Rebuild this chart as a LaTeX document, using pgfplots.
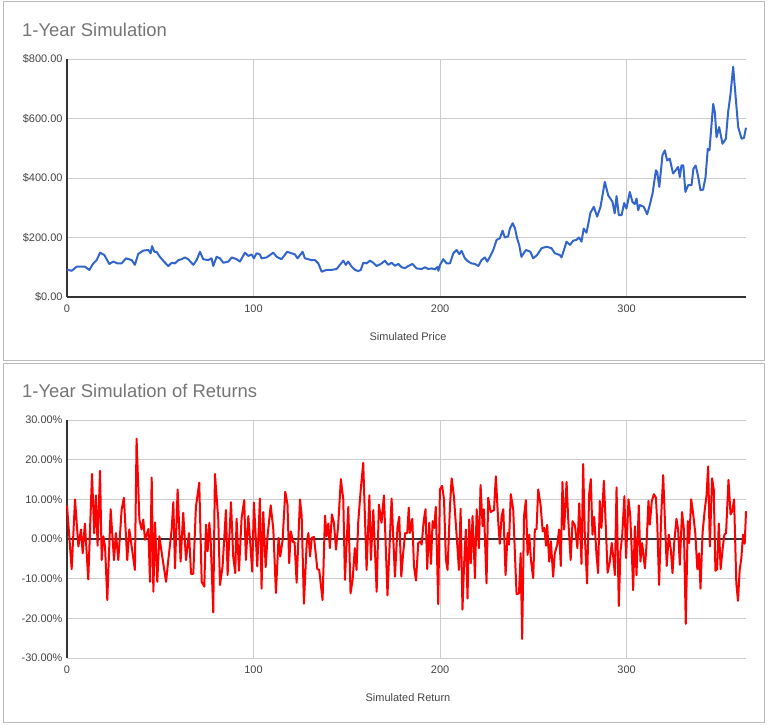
\documentclass[border=0pt]{standalone}
\usepackage{fontspec}
\setmainfont{Liberation Sans}
\usepackage{pgfplots}
\usepackage{pgfplotstable}
\pgfplotsset{compat=1.18}

\definecolor{gblue}{HTML}{3366CC}
\definecolor{gred}{HTML}{FF0000}
\definecolor{gridgray}{HTML}{CCCCCC}
\definecolor{basegray}{HTML}{333333}
\definecolor{ticktext}{HTML}{444444}
\definecolor{titletext}{HTML}{757575}
\definecolor{boxgray}{HTML}{BBBBBB}

% simulated price, day vs. dollars
\pgfplotstableread{
day price
0 92
2.5 88
5.2 102
9.6 102
12 91
14.1 113
15.9 124
17.7 149
20 141
22.7 111
24.8 119
27 113
29.3 113
31.6 130
34.7 124
36.4 108
38.2 145
40.9 156
43.6 158
44.8 147
45.6 171
46.8 152
48 152
49.8 135
52 119
54.3 104
56.1 115
57.9 113
59.7 124
61.5 127
63.2 133
65 127
67.7 108
69.5 124
71.3 152
73 127
75.7 124
77.5 130
78.4 104
80.2 135
82 130
83.8 115
86.5 119
88.3 133
90.9 127
92.7 119
95.4 149
97.2 138
99 143
100.2 130
101.6 147
103.4 143
104.3 130
107 133
108.8 141
110.6 149
112.4 135
115 127
118 152
120.4 147
122.2 143
123.6 130
126.3 152
127.5 130
131.1 124
132.9 124
134.7 113
136.5 85
139.2 91
141.8 91
144.5 94
146.3 108
148.1 122
149.5 108
150.7 119
152.6 102
154.4 91
156.1 87
157.5 91
158.8 115
160.6 113
162.4 122
164.2 115
166 104
168.7 113
170.4 122
172.2 108
174 115
175.8 105
177.6 111
179.4 100
181.2 97
182.9 104
185.2 111
187.4 96
190.1 94
191.9 100
193.7 94
195.5 96
197.3 93
198.6 101
199.1 88
200 108
201.7 127
203.5 113
205.3 113
207.1 147
208.9 158
210.3 144
211.5 155
213.3 130
215.1 119
216.9 113
218.7 111
220.5 104
222.2 124
224 133
225.3 119
226.7 135
228.5 158
230.3 192
232 197
233.5 223
234.7 200
236.5 204
237.4 230
238.9 248
240.1 232
241.3 197
242.4 175
243.6 135
246 158
248.4 152
249.9 130
252 141
254.4 164
257.1 169
259.7 164
261.5 147
264.2 141
265.1 133
266.4 158
267.8 186
269.6 175
271.3 189
273.1 192
274.5 200
275.8 186
277 230
278.5 216
280.6 283
282.4 303
284.2 270
286 303
288.3 387
290.1 342
292.4 320
293.6 281
294.6 339
295.8 275
297.3 275
298.7 316
299.9 297
301.7 353
303.1 320
304.4 312
305.3 331
306.2 292
307.1 309
309.2 303
311 278
312.4 309
313.9 348
315.7 426
316.4 420
317.5 370
319.2 476
320.5 493
321.7 459
323.1 465
324.9 415
326.3 426
327.6 437
328.5 403
329.4 442
330.4 442
331.5 353
333 376
334.8 376
335.8 431
337 442
338.2 409
339.6 359
341 361
342.3 403
343.5 498
344.4 493
346.4 649
347.3 621
348.2 537
349.6 571
351.4 515
353.2 532
354.4 621
355.7 683
357.1 774
358.6 660
359.8 571
361.6 532
362.9 535
364 569
}\pricetable

% simulated daily return, in percent
\pgfplotstableread{
day ret
0 8.5
2.5 -7.6
4.3 10
6.1 -1.9
7.5 2.4
8.4 -3.6
9.6 3.9
11.4 -10.2
13.4 16.4
14.6 1.4
15.5 11
16.4 -1.7
17.7 17.2
18.6 -5.3
19.5 0.7
20.4 -1.9
21.6 -15.4
23.4 7.5
25.2 -5.3
26.2 1.5
27.5 -5.3
29.3 7.5
30.5 10.4
32.3 -5.3
33.4 2.4
36.4 -7.8
37.3 25.3
38.8 4.9
40 2.4
40.9 4.9
41.8 -0.2
43.6 2.5
44.5 -10.8
45.4 15.5
46.3 -13.3
47.2 4.2
48.4 -10.8
49.5 0.7
51.6 -6.1
53.1 -10.8
54.3 -5.3
56.1 2.4
57 9.3
57.9 -7.4
59.3 12.5
60.9 -5.7
62.3 6.6
63.8 -5.3
65.4 1.5
66.5 -8.8
67.7 -8.8
69.1 8.1
70.9 14.2
72.2 -10.8
73.6 -12
74.5 3.6
75.4 -3.1
76.3 4.1
77 -0.2
78.4 -18.5
79.3 16.4
81.1 4.9
82 -11.6
83.4 -6.9
85.2 7.3
86.1 -9.1
87.9 9.3
89.1 -4.4
90.2 -8.6
90.9 5.1
92.2 -8
93.6 5.3
95 9.8
95.9 -5.3
97.2 5.8
99.3 -8.2
100.2 9.2
102 -6.9
103.4 10.2
104.3 -12.5
105.2 6.8
106.5 -7.1
107.5 0.7
109.2 8.5
110.6 2.4
112 -13.6
113.4 0.3
114.3 -4.4
115.6 -0.2
117 11.9
118.2 8.7
119.1 -6.1
120 1.9
121.2 -0.8
122 -0.8
123.1 -11
124.9 10
125.8 5.8
127 -16.3
128.5 -1
129.4 1.5
130.3 -4.4
131.2 0.3
132.4 0.5
134.2 -7.6
135.2 -7.8
137 -15.4
138.3 5.9
139.2 0.7
140.1 3.9
140.9 -2.3
142 6.2
143.1 4.1
144.2 -2.7
145.4 3.6
146.8 15.1
148.1 10
149 -10.3
150.8 8.1
152 -13.7
153.1 -10.3
154.3 -2.3
155.2 -7.8
156.1 4.1
157.4 12.1
158.8 19.2
160.6 -7.8
162.1 11
162.9 -5.3
164.2 7.3
166 -13.3
167.2 8.7
168.6 4.1
169.9 11
171.8 -14.2
174 10.2
175.8 -9.5
177.2 3.2
178.1 5.6
179.2 -9.5
180.2 -3.6
181.3 1.5
182.4 1.5
183.2 7.9
183.8 1.5
185.1 5.1
186 -6.9
187.1 -10.5
188.3 -1
189.6 -0.6
190.1 -1.4
191.3 4.9
192.2 7.5
193.1 -7.6
194.2 4.1
195.1 -6.3
196 4.5
196.9 2.8
197.7 8.1
199 -16.4
199.9 12.5
201.1 13.4
202.1 10
203.1 -5.1
204 -7.8
205.3 8.3
206.2 15.3
207.4 10.8
208.9 0.7
210.1 -7.8
211 7.6
212 -17.8
212.9 -6.1
213.8 2.4
214.7 -15
215.6 4.9
216.5 -6.1
217.4 5.8
218.7 -9.9
219.6 7.5
220.8 -2.3
221.7 13.6
222.8 3.2
223.5 7.5
224.9 -11.2
225.8 10.4
227.1 6.8
228.9 7.3
229.9 15.8
231.2 4.1
232 -1.2
233 5.8
233.9 7.5
235.1 -9.1
236.2 1.5
236.9 -1.4
237.9 11.3
239.2 7.5
240.1 -3.6
241 -13.9
242.3 -13.7
243.2 -3.6
244 -25.2
245 5.8
246 9.8
246.9 -4
247.8 1.1
248.7 -5.3
249.9 -9.9
250.8 2.4
251.7 2.5
252.6 12.5
253.9 8.5
255 1.9
255.9 2.8
256.8 -1.7
257.4 3.6
258.5 -5.7
259.4 -0.6
260.6 -9.5
261.5 -3.6
262.8 -1.4
263.8 2.4
264.7 -6.8
265.6 14.4
266.5 2.4
267.8 14.4
268.7 4.9
270 -5.3
271 4.5
272.3 3.4
273.6 -2.3
274.6 9
275.8 -6.3
276.7 18.9
277.6 0.7
278.8 -11.2
279.9 11.3
280.8 15.1
281.7 1.1
282.6 5.6
283.8 -3.6
284.7 -8.6
285.6 9.6
286.5 2.8
287.8 14.7
288.9 2.4
289.8 -8.5
291 -5.7
292 -1
292.9 -4.8
293.7 -9.1
294.6 13
295.8 -16.9
296.7 -3.1
297.6 0.7
298.8 10.8
299.7 -4.8
301 10
301.9 6.2
302.8 -3.6
303.5 -12.9
304.4 3.2
305.3 -9.1
306.5 8.5
307.4 -5.7
308.3 -1
308.9 -3.6
309.8 -7.4
310.6 -1.9
311.7 9.6
312.4 3.6
313.5 9.6
314.6 11.3
315.7 10.4
316.4 4.1
317.4 -11.6
318.6 6.6
319.6 16.1
320.5 4.9
321.5 -6.8
322.6 1.1
323.7 -2.7
324.6 -8.6
325.5 -1
326.7 5.1
327.6 2.4
328.5 -6.5
329.7 6.8
330.7 2.4
331.7 -21.4
332.8 4.5
333.5 -1
334.6 10
335.7 6.2
336.8 1.5
337.9 -7.6
338.8 -3.6
339.6 -12.5
340.7 1.5
341.9 7.5
342.8 10.8
343.7 18.3
344.6 -1.9
345.8 15.3
346.7 12.5
347.6 -8
348.5 -7.6
349.4 3.9
350.4 -7.6
351.5 -2.3
352.4 1.1
353.3 1.5
354.6 14.9
355.7 6.2
356.6 7
357.6 10
358.8 -11.2
359.7 -15.6
360.6 -7.8
361.5 -4.8
362.4 1.1
363.3 -1.2
364 7
}\returntable

\pgfplotsset{
  simchart/.style={
    scale only axis,
    width=679bp, height=238bp,
    xmin=0, xmax=364,
    xtick={0,100,200,300},
    xticklabels={0,100,200,300},
    grid=major,
    major grid style={gridgray, line width=0.8bp},
    major tick length=0pt,
    axis x line*=bottom,
    axis y line*=left,
    y axis line style={-, basegray, line width=1.2bp},
    tick label style={font=\fontsize{11}{13}\selectfont, text=ticktext},
    xticklabel style={yshift=-4bp},
    yticklabel style={xshift=-1bp},
    clip=false,
  },
}

\begin{document}
\begin{tikzpicture}[x=1bp, y=1bp]
  \path[use as bounding box] (0,0) rectangle (768,726);
  \draw[boxgray, line width=1bp] (3,365) rectangle (764,724);
  \draw[boxgray, line width=1bp] (3,3) rectangle (764,362);

  \node[anchor=base west, inner sep=0pt, text=titletext, font=\fontsize{18.5}{22}\selectfont] at (22,689) {1-Year Simulation};
  \node[anchor=base west, inner sep=0pt, text=titletext, font=\fontsize{18.5}{22}\selectfont] at (22,328) {1-Year Simulation of Returns};
  \node[text=ticktext, font=\fontsize{11}{13}\selectfont] at (408,389) {Simulated Price};
  \node[text=ticktext, font=\fontsize{11}{13}\selectfont] at (408,28) {Simulated Return};

  \begin{axis}[simchart,
      at={(67bp,429bp)}, anchor=south west,
      ymin=0, ymax=800,
      ytick={0,200,400,600,800},
      yticklabels={\$0.00,\$200.00,\$400.00,\$600.00,\$800.00},
      x axis line style={-, basegray, line width=1.2bp},
    ]
    \addplot[gblue, line width=2bp, line join=round] table[x=day, y=price] {\pricetable};
  \end{axis}

  \begin{axis}[simchart,
      at={(67bp,68bp)}, anchor=south west,
      ymin=-30, ymax=30,
      ytick={-30,-20,-10,0,10,20,30},
      yticklabels={-30.00\%,-20.00\%,-10.00\%,0.00\%,10.00\%,20.00\%,30.00\%},
      x axis line style={-, gridgray, line width=0.8bp},
    ]
    \draw[basegray, line width=1.2bp] (axis cs:0,0) -- (axis cs:364,0);
    \addplot[gred, line width=2bp, line join=round] table[x=day, y=ret] {\returntable};
  \end{axis}
\end{tikzpicture}
\end{document}
